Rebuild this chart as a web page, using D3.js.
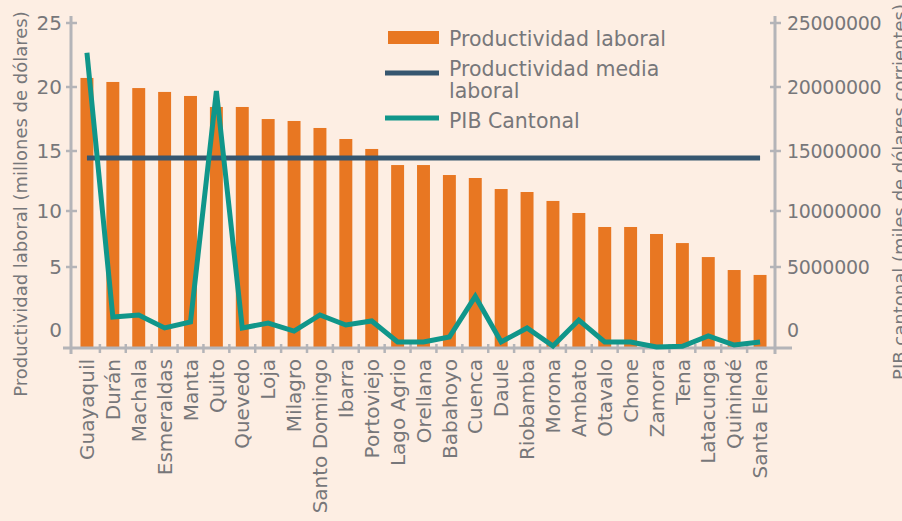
<!DOCTYPE html>
<html>
<head>
<meta charset="utf-8">
<script src="https://cdn.jsdelivr.net/npm/d3@7"></script>
<style>
  html, body { margin: 0; padding: 0; background: #fdeee3; }
  svg { display: block; }
  text { font-family: "DejaVu Sans", sans-serif; fill: #77777a; }
</style>
</head>
<body>
<svg id="chart" width="902" height="521"></svg>
<script>
const categories = ["Guayaquil","Durán","Machala","Esmeraldas","Manta","Quito","Quevedo","Loja","Milagro","Santo Domingo","Ibarra","Portoviejo","Lago Agrio","Orellana","Babahoyo","Cuenca","Daule","Riobamba","Morona","Ambato","Otavalo","Chone","Zamora","Tena","Latacunga","Quinindé","Santa Elena"];
const productividad = [20.76,20.45,19.98,19.68,19.37,18.52,18.52,17.59,17.44,16.90,16.05,15.28,14.04,14.04,13.27,13.04,12.19,11.96,11.27,10.34,9.26,9.26,8.72,8.02,6.94,5.94,5.56];
const productividadMedia = 14.58;
const pibCantonal = [22700000,2310000,2470000,1470000,1930000,19750000,1470000,1850000,1230000,2470000,1700000,2010000,390000,390000,770000,3900000,390000,1470000,80000,2080000,390000,390000,0,50000,850000,150000,390000];
const leftTicks = [0,5,10,15,20,25];
const rightTicks = [0,5000000,10000000,15000000,20000000,25000000];
const legendLabels = [["Productividad laboral"],["Productividad media","laboral"],["PIB Cantonal"]];
const leftTitle = "Productividad laboral (millones de dólares)";
const rightTitle = "PIB cantonal (miles de dólares corrientes)";

const svg = d3.select("#chart");
const ORANGE = "#e87722", NAVY = "#36566f", TEAL = "#10968a", GRAY = "#b4b4b8";
const baseY = 347, topY = 23, leftX = 71, rightX = 775;

const x = d3.scaleBand().domain(categories).range([74, 773]).paddingInner(0.5).paddingOuter(0.25);
const yL = d3.scaleLinear().domain([0, 25]).range([baseY, topY]);
const yR = d3.scaleLinear().domain([0, 25000000]).range([baseY, topY]);
// axis label positions as drawn in the reference (irregular spacing)
const yLAxis = d3.scaleLinear().domain(leftTicks).range([330, 267, 211, 151, 87, 23]);
const yRAxis = d3.scaleLinear().domain(rightTicks).range([330, 267, 211, 151, 87, 23]);
const cx = d => x(d) + x.bandwidth() / 2;

// bars
svg.append("g").selectAll("rect").data(categories).join("rect")
  .attr("x", d => x(d)).attr("width", x.bandwidth())
  .attr("y", (d, i) => yL(productividad[i]))
  .attr("height", (d, i) => yL(0) - yL(productividad[i]))
  .attr("fill", ORANGE);

// axes lines
const ax = svg.append("g").attr("stroke", GRAY).attr("stroke-width", 3);
ax.append("line").attr("x1", 63).attr("x2", 792).attr("y1", baseY + 1).attr("y2", baseY + 1);
ax.append("line").attr("x1", leftX).attr("x2", leftX).attr("y1", 16).attr("y2", 354);
ax.append("line").attr("x1", rightX).attr("x2", rightX).attr("y1", 16).attr("y2", 354);
// x ticks at band boundaries
ax.selectAll(".xt").data(categories.slice(1)).join("line")
  .attr("stroke-width", 2.5)
  .attr("x1", d => x(d) - x.step() * x.paddingInner() / 2)
  .attr("x2", d => x(d) - x.step() * x.paddingInner() / 2)
  .attr("y1", 344).attr("y2", 353);
// y ticks
ax.selectAll(".lt").data(leftTicks.filter(t => t > 0)).join("line")
  .attr("stroke-width", 2.5)
  .attr("x1", 66).attr("x2", 77).attr("y1", d => yLAxis(d)).attr("y2", d => yLAxis(d));
ax.selectAll(".rt").data(rightTicks.filter(t => t > 0)).join("line")
  .attr("stroke-width", 2.5)
  .attr("x1", 770).attr("x2", 781).attr("y1", d => yRAxis(d)).attr("y2", d => yRAxis(d));

// tick labels
svg.append("g").selectAll("text").data(leftTicks).join("text")
  .attr("x", 62).attr("y", d => yLAxis(d)).attr("dy", "0.36em")
  .attr("text-anchor", "end").attr("font-size", 20).text(d => d);
svg.append("g").selectAll("text").data(rightTicks).join("text")
  .attr("x", 787).attr("y", d => yRAxis(d)).attr("dy", "0.36em")
  .attr("text-anchor", "start").attr("font-size", 19).attr("letter-spacing", -0.3).text(d => d);

// category labels
svg.append("g").selectAll("text").data(categories).join("text")
  .attr("transform", d => `translate(${cx(d)},359) rotate(-90)`)
  .attr("dy", "0.36em").attr("text-anchor", "end").attr("font-size", 20)
  .text(d => d);

// axis titles
svg.append("text").attr("transform", "translate(27,204) rotate(-90)")
  .attr("text-anchor", "middle").attr("font-size", 18).text(leftTitle);
svg.append("text").attr("transform", "translate(906,192) rotate(-90)")
  .attr("text-anchor", "middle").attr("font-size", 18).text(rightTitle);

// mean line
svg.append("line")
  .attr("x1", cx(categories[0])).attr("x2", cx(categories[categories.length - 1]))
  .attr("y1", yL(productividadMedia)).attr("y2", yL(productividadMedia))
  .attr("stroke", NAVY).attr("stroke-width", 5);

// PIB line
const line = d3.line().x((d, i) => cx(categories[i])).y(d => yR(d));
svg.append("path").datum(pibCantonal).attr("d", line)
  .attr("fill", "none").attr("stroke", TEAL).attr("stroke-width", 5);

// legend
const lg = svg.append("g");
lg.append("rect").attr("x", 388).attr("y", 31).attr("width", 51).attr("height", 13).attr("fill", ORANGE);
lg.append("line").attr("x1", 385).attr("x2", 439).attr("y1", 73).attr("y2", 73).attr("stroke", NAVY).attr("stroke-width", 5);
lg.append("line").attr("x1", 385).attr("x2", 439).attr("y1", 118).attr("y2", 118).attr("stroke", TEAL).attr("stroke-width", 5);
const baselines = [[46], [76, 98], [128]];
legendLabels.forEach((lines, i) => {
  lines.forEach((t, j) => {
    lg.append("text").attr("x", 449).attr("y", baselines[i][j]).attr("font-size", 20.5).text(t);
  });
});
</script>
</body>
</html>
